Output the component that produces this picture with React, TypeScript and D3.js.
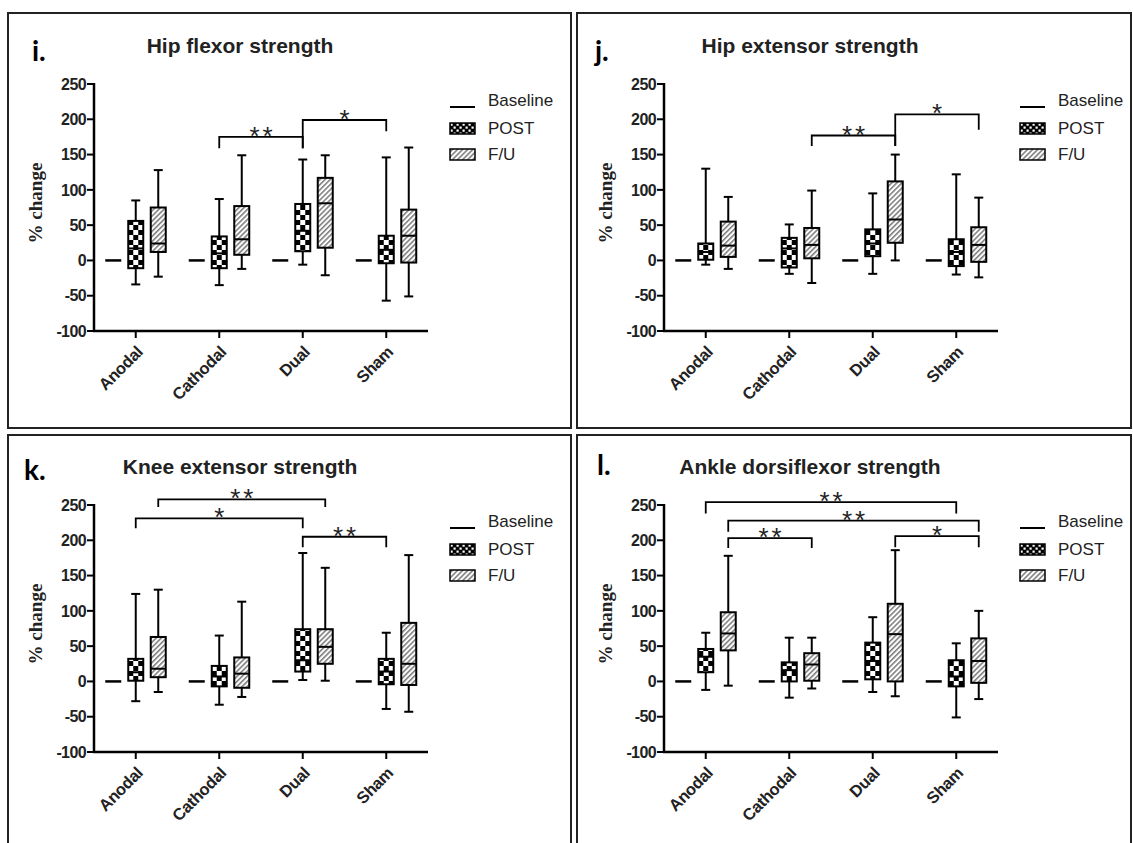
import * as d3 from "d3";

const categories = ["Anodal", "Cathodal", "Dual", "Sham"];
const groups = ["Baseline", "POST", "F/U"];
const yTicks = [-100, -50, 0, 50, 100, 150, 200, 250];
const baselineLevel = [0, 0, 0, 0];

// box stats per category: [min, q1, median, q3, max]
const hipFlexorPost = [[-34, -11, 17, 56, 85], [-35, -11, 10, 34, 87], [-6, 13, 42, 80, 143], [-57, -4, 15, 35, 146]];
const hipFlexorFU = [[-23, 12, 24, 75, 128], [-12, 8, 30, 77, 149], [-21, 18, 81, 117, 149], [-51, -3, 35, 72, 160]];

const hipExtensorPost = [[-6, 1, 12, 24, 130], [-19, -10, 17, 32, 51], [-19, 6, 24, 44, 95], [-20, -8, 12, 30, 122]];
const hipExtensorFU = [[-12, 5, 21, 55, 90], [-32, 3, 22, 46, 99], [0, 25, 58, 112, 150], [-24, -2, 22, 47, 89]];

const kneeExtensorPost = [[-28, 1, 13, 32, 124], [-33, -7, 7, 22, 65], [2, 14, 30, 74, 182], [-39, -4, 14, 32, 69]];
const kneeExtensorFU = [[-15, 6, 18, 63, 130], [-22, -9, 11, 34, 113], [1, 25, 49, 74, 161], [-43, -5, 25, 83, 179]];

const ankleDorsiPost = [[-12, 13, 35, 46, 69], [-23, 0, 16, 27, 62], [-15, 3, 29, 55, 91], [-51, -7, 7, 30, 54]];
const ankleDorsiFU = [[-6, 44, 68, 98, 178], [-10, 1, 24, 40, 62], [-21, 0, 67, 110, 186], [-25, -2, 29, 61, 100]];

// significance brackets: level and foot values are in % change units
const hipFlexorBrackets = [
  { from: ["Cathodal", "POST"], to: ["Dual", "POST"], level: 175, feet: [159, 159], label: "**" },
  { from: ["Dual", "POST"], to: ["Sham", "POST"], level: 199, feet: [159, 183], label: "*" },
];
const hipExtensorBrackets = [
  { from: ["Cathodal", "F/U"], to: ["Dual", "F/U"], level: 177, feet: [162, 162], label: "**" },
  { from: ["Dual", "F/U"], to: ["Sham", "F/U"], level: 207, feet: [162, 185], label: "*" },
];
const kneeExtensorBrackets = [
  { from: ["Anodal", "F/U"], to: ["Dual", "F/U"], level: 258, feet: [247, 247], label: "**" },
  { from: ["Anodal", "POST"], to: ["Dual", "POST"], level: 231, feet: [217, 217], label: "*" },
  { from: ["Dual", "POST"], to: ["Sham", "POST"], level: 205, feet: [190, 190], label: "**" },
];
const ankleDorsiBrackets = [
  { from: ["Anodal", "POST"], to: ["Sham", "POST"], level: 254, feet: [238, 238], label: "**" },
  { from: ["Anodal", "F/U"], to: ["Sham", "F/U"], level: 228, feet: [212, 212], label: "**" },
  { from: ["Anodal", "F/U"], to: ["Cathodal", "F/U"], level: 203, feet: [189, 189], label: "**" },
  { from: ["Dual", "F/U"], to: ["Sham", "F/U"], level: 206, feet: [190, 190], label: "*" },
];

const SANS = "'Liberation Sans', Arial, Helvetica, sans-serif";
const SERIF = "'Liberation Serif', 'Times New Roman', serif";
const LABEL = "Lato, 'Open Sans', sans-serif";

const x = d3.scalePoint<string>().domain(categories).range([94, 428]).padding(0.5);
const g = d3.scalePoint<string>().domain(groups).range([-22.5, 22.5]);
const y = d3.scaleLinear().domain([-100, 250]).range([331, 84]);

const BOX_W = 15;
const CAP_W = 9;

function BoxMark({ cx, stats, fill }: { cx: number; stats: number[]; fill: string }) {
  const [mn, q1, md, q3, mx] = stats;
  return (
    <g transform={`translate(${cx},0)`} stroke="#000" strokeWidth={2}>
      <line x1={0} x2={0} y1={y(mx)} y2={y(q3)} />
      <line x1={0} x2={0} y1={y(q1)} y2={y(mn)} />
      <line x1={-CAP_W / 2} x2={CAP_W / 2} y1={y(mx)} y2={y(mx)} />
      <line x1={-CAP_W / 2} x2={CAP_W / 2} y1={y(mn)} y2={y(mn)} />
      <rect x={-BOX_W / 2} width={BOX_W} y={y(q3)} height={y(q1) - y(q3)} fill={fill} />
      <line x1={-BOX_W / 2} x2={BOX_W / 2} y1={y(md)} y2={y(md)} />
    </g>
  );
}

type Bracket = { from: string[]; to: string[]; level: number; feet: number[]; label: string };

function Panel(props: {
  dx: number; dy: number; tag: string; tagX: number; tagY: number; title: string;
  post: number[][]; fu: number[][]; brackets: Bracket[];
}) {
  const { dx, dy, tag, tagX, tagY, title, post, fu, brackets } = props;
  const pos = (c: string, s: string) => (x(c) as number) + (g(s) as number);
  return (
    <g transform={`translate(${dx},${dy})`}>
      <text x={tagX} y={tagY} fontFamily={LABEL} fontWeight={700} fontSize={28}>{tag}</text>
      <text x={240} y={53} textAnchor="middle" fontFamily={SANS} fontWeight={700} fontSize={21} fill="#222">{title}</text>

      {/* y axis */}
      <line x1={94} x2={94} y1={y(250) - 1} y2={y(-100) + 1} stroke="#000" strokeWidth={2.5} />
      {yTicks.map((t) => (
        <g key={t}>
          <line x1={87} x2={94} y1={y(t)} y2={y(t)} stroke="#000" strokeWidth={2} />
          <text x={86} y={y(t)} dy="0.36em" textAnchor="end" fontFamily={SANS} fontWeight={700} fontSize={16} letterSpacing={-0.6} fill="#222">{t}</text>
        </g>
      ))}
      <text transform={`translate(42,203) rotate(-90)`} textAnchor="middle" fontFamily={SERIF} fontWeight={700} fontSize={19} fill="#222">% change</text>

      {/* x axis */}
      <line x1={93} x2={428} y1={y(-100)} y2={y(-100)} stroke="#000" strokeWidth={2.5} />
      {categories.map((c) => (
        <g key={c}>
          <line x1={x(c)} x2={x(c)} y1={y(-100)} y2={y(-100) + 7} stroke="#000" strokeWidth={2} />
          <text transform={`translate(${(x(c) as number) + 8},${y(-100) + 22}) rotate(-45)`} textAnchor="end" fontFamily={SANS} fontWeight={700} fontSize={16.5} letterSpacing={-0.3} fill="#222">{c}</text>
        </g>
      ))}

      {/* baseline dashes */}
      {categories.map((c, i) => (
        <line key={c} x1={pos(c, "Baseline") - 8} x2={pos(c, "Baseline") + 8} y1={y(baselineLevel[i])} y2={y(baselineLevel[i])} stroke="#000" strokeWidth={2.5} />
      ))}
      {categories.map((c, i) => (
        <BoxMark key={"p" + c} cx={pos(c, "POST")} stats={post[i]} fill="url(#checker)" />
      ))}
      {categories.map((c, i) => (
        <BoxMark key={"f" + c} cx={pos(c, "F/U")} stats={fu[i]} fill="url(#hatch)" />
      ))}

      {/* significance brackets */}
      {brackets.map((b, i) => {
        const x1 = pos(b.from[0], b.from[1]);
        const x2 = pos(b.to[0], b.to[1]);
        const ly = y(b.level);
        return (
          <g key={i}>
            <path d={`M${x1},${y(b.feet[0])}V${ly}H${x2}V${y(b.feet[1])}`} fill="none" stroke="#000" strokeWidth={1.8} />
            <text x={(x1 + x2) / 2 + 1.5} y={ly + 8} textAnchor="middle" fontFamily={SANS} fontSize={26} letterSpacing={3} fill="#222">{b.label}</text>
          </g>
        );
      })}

      {/* legend */}
      <g fontFamily={SANS} fontSize={17} fill="#222">
        <line x1={450} x2={475} y1={107} y2={107} stroke="#000" strokeWidth={2} />
        <text x={488} y={106}>Baseline</text>
        <rect x={450} y={123} width={25} height={11} fill="url(#checkerSmall)" stroke="#000" strokeWidth={1.5} />
        <text x={488} y={134}>POST</text>
        <rect x={450} y={149} width={25} height={11} fill="url(#hatch)" stroke="#000" strokeWidth={1.5} />
        <text x={488} y={160}>F/U</text>
      </g>
    </g>
  );
}

export default function App() {
  return (
    <svg width={1133} height={843} style={{ position: "absolute", left: 0, top: 0, display: "block" }}>
      <defs>
        <pattern id="checker" patternUnits="userSpaceOnUse" x={-7.5} y={0} width={10} height={10}>
          <rect width={10} height={10} fill="#fff" />
          <rect width={5} height={5} fill="#000" />
          <rect x={5} y={5} width={5} height={5} fill="#000" />
        </pattern>
        <pattern id="checkerSmall" patternUnits="userSpaceOnUse" x={450} y={123} width={6} height={6}>
          <rect width={6} height={6} fill="#000" />
          <rect x={0.5} y={0.5} width={2.2} height={2.2} fill="#fff" />
          <rect x={3.5} y={3.5} width={2.2} height={2.2} fill="#fff" />
        </pattern>
        <pattern id="hatch" patternUnits="userSpaceOnUse" width={3.6} height={10} patternTransform="rotate(45)">
          <rect width={3.6} height={10} fill="#fff" />
          <line x1={0.8} x2={0.8} y1={0} y2={10} stroke="#777" strokeWidth={1.5} />
        </pattern>
      </defs>
      <rect width={1133} height={843} fill="#fff" />

      <g fill="none" stroke="#222" strokeWidth={2}>
        <rect x={8} y={13} width={563} height={415} />
        <rect x={577} y={13} width={554} height={415} />
        <rect x={8} y={435} width={563} height={420} />
        <rect x={577} y={435} width={554} height={420} />
      </g>

      <Panel dx={0} dy={0} tag="i." tagX={32} tagY={61} title="Hip flexor strength" post={hipFlexorPost} fu={hipFlexorFU} brackets={hipFlexorBrackets} />
      <Panel dx={570} dy={0} tag="j." tagX={25} tagY={61} title="Hip extensor strength" post={hipExtensorPost} fu={hipExtensorFU} brackets={hipExtensorBrackets} />
      <Panel dx={0} dy={421} tag="k." tagX={24} tagY={59} title="Knee extensor strength" post={kneeExtensorPost} fu={kneeExtensorFU} brackets={kneeExtensorBrackets} />
      <Panel dx={570} dy={421} tag="l." tagX={27} tagY={54} title="Ankle dorsiflexor strength" post={ankleDorsiPost} fu={ankleDorsiFU} brackets={ankleDorsiBrackets} />
    </svg>
  );
}
